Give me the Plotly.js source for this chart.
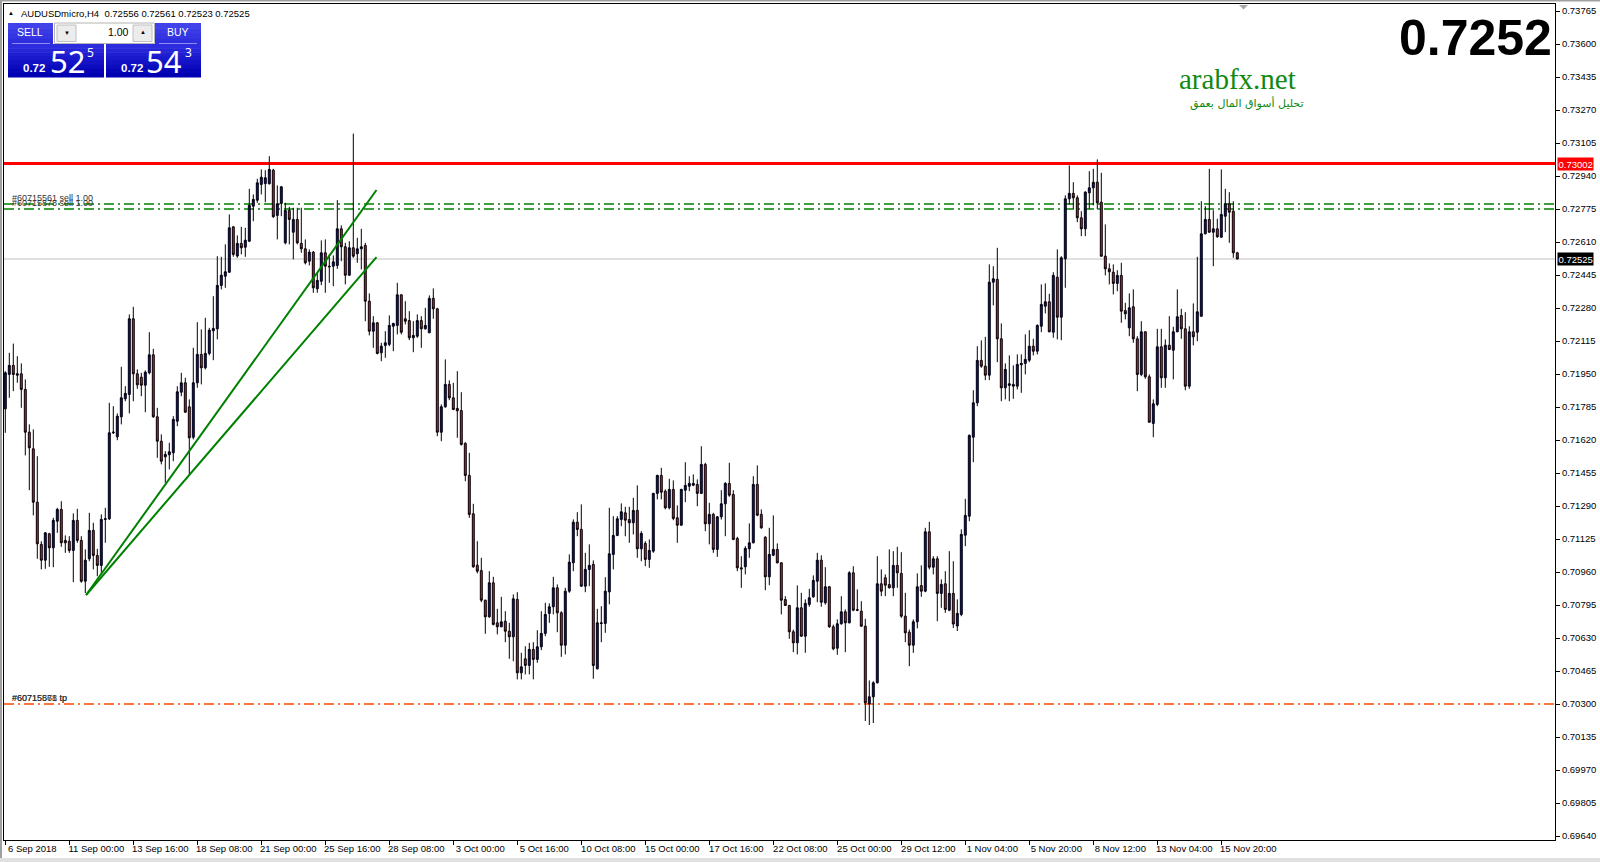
<!DOCTYPE html>
<html><head><meta charset="utf-8">
<script src="https://cdn.plot.ly/plotly-3.0.1.min.js"></script>
<style>html,body{margin:0;padding:0;background:#fff;overflow:hidden}#chart{width:1600px;height:862px}</style>
</head><body><div id="chart"></div>
<script>
// ---------------- DATA ----------------
const symbolHeader = "AUDUSDmicro,H4  0.72556 0.72561 0.72523 0.72525";
const tickLabels = ["6 Sep 2018","11 Sep 00:00","13 Sep 16:00","18 Sep 08:00","21 Sep 00:00","25 Sep 16:00","28 Sep 08:00","3 Oct 00:00","5 Oct 16:00","10 Oct 08:00","15 Oct 00:00","17 Oct 16:00","22 Oct 08:00","25 Oct 00:00","29 Oct 12:00","1 Nov 04:00","5 Nov 20:00","8 Nov 12:00","13 Nov 04:00","15 Nov 20:00"];
const tickBars = [0,16,32,48,64,80,96,112,128,144,160,176,192,208,224,240,256,272,288,304];

const openP = [
0.71776,0.71948,0.71993,0.71944,0.71951,0.71873,0.71659,0.71576,0.71309,0.71098,
0.71019,0.71151,0.71081,0.71214,0.71273,0.71118,0.71114,0.71068,0.71218,0.71118,
0.70914,0.71026,0.71168,0.71043,0.70993,0.71223,0.71226,0.71656,0.71636,0.71736,
0.71826,0.71848,0.72226,0.71951,0.71934,0.71894,0.71956,0.72046,0.71736,0.71614,
0.71536,0.71546,0.71556,0.71714,0.71859,0.71906,0.71786,0.71634,0.71906,0.72048,
0.71981,0.72053,0.72166,0.72176,0.72393,0.72439,0.72459,0.72686,0.72540,0.72603,
0.72584,0.72614,0.72789,0.72819,0.72898,0.72902,0.72901,0.72969,0.72743,0.72803,
0.72606,0.72768,0.72659,0.72723,0.72603,0.72576,0.72514,0.72559,0.72376,0.72414,
0.72556,0.72489,0.72489,0.72493,0.72676,0.72586,0.72444,0.72581,0.72551,0.72576,
0.72593,0.72314,0.72164,0.72206,0.72056,0.72093,0.72098,0.72189,0.72193,0.72346,
0.72226,0.72217,0.72131,0.72139,0.72217,0.72176,0.72156,0.72328,0.72276,0.71659,
0.71786,0.71898,0.71831,0.71778,0.71767,0.71603,0.71443,0.71251,0.70994,0.70967,
0.70819,0.70736,0.70906,0.70706,0.70686,0.70714,0.70664,0.70636,0.70823,0.70456,
0.70526,0.70493,0.70573,0.70523,0.70586,0.70653,0.70753,0.70786,0.70881,0.70756,
0.70594,0.70864,0.71006,0.71209,0.71173,0.70889,0.70973,0.70998,0.70476,0.70706,
0.70703,0.70861,0.71048,0.71143,0.71223,0.71256,0.71222,0.71206,0.71268,0.71076,
0.71103,0.71023,0.71064,0.71353,0.71443,0.71364,0.71281,0.71373,0.71231,0.71194,
0.71369,0.71389,0.71394,0.71398,0.71353,0.71498,0.71201,0.71248,0.71073,0.71236,
0.71301,0.71403,0.71348,0.71128,0.70981,0.70986,0.71076,0.71106,0.71398,0.71248,
0.71134,0.70936,0.71044,0.71073,0.71006,0.70822,0.70793,0.70661,0.70606,0.70781,
0.70639,0.70798,0.70836,0.70914,0.71019,0.70806,0.70886,0.70686,0.70579,0.70701,
0.70761,0.70706,0.70956,0.70772,0.70764,0.70689,0.70301,0.70336,0.70406,0.70901,
0.70931,0.70897,0.70881,0.70993,0.70953,0.70739,0.70659,0.70594,0.70711,0.70892,
0.70864,0.71161,0.70984,0.71026,0.70853,0.70901,0.70769,0.70853,0.70690,0.70748,
0.71144,0.71239,0.71634,0.71806,0.72018,0.71989,0.71944,0.72409,0.72423,0.72126,
0.71881,0.71893,0.71898,0.71889,0.71996,0.72003,0.72019,0.72089,0.72064,0.72189,
0.72289,0.72311,0.72159,0.72434,0.72234,0.72526,0.72826,0.72853,0.72831,0.72731,
0.72676,0.72856,0.72881,0.72909,0.72809,0.72539,0.72476,0.72459,0.72403,0.72443,
0.72267,0.72181,0.72286,0.72126,0.71948,0.72161,0.71936,0.71703,0.71798,0.72086,
0.71931,0.72094,0.72069,0.72161,0.72242,0.72176,0.71889,0.72161,0.72159,0.72239,
0.72651,0.72723,0.72659,0.72676,0.72634,0.72739,0.72801,0.72764,0.72556];

const highP = [
0.71964,0.72056,0.72102,0.72039,0.72003,0.71923,0.71698,0.71673,0.71539,0.71114,
0.71159,0.71156,0.71231,0.71281,0.71314,0.71143,0.71139,0.71253,0.71276,0.71139,
0.71073,0.71256,0.71206,0.71076,0.71248,0.71281,0.71806,0.71789,0.71753,0.71986,
0.71889,0.72248,0.72286,0.71973,0.71956,0.71968,0.72159,0.72076,0.71781,0.71648,
0.71564,0.71606,0.71739,0.71889,0.71956,0.71931,0.71823,0.72081,0.72209,0.72173,
0.72231,0.72181,0.72339,0.72539,0.72536,0.72598,0.72748,0.72688,0.72643,0.72686,
0.72681,0.72876,0.72848,0.72926,0.72973,0.72969,0.73039,0.72976,0.72893,0.72890,
0.72806,0.72786,0.72781,0.72781,0.72781,0.72623,0.72573,0.72565,0.72456,0.72618,
0.72623,0.72548,0.72543,0.72819,0.72693,0.72606,0.72614,0.73152,0.72631,0.72676,
0.72606,0.72353,0.72239,0.72210,0.72106,0.72164,0.72243,0.72206,0.72406,0.72348,
0.72314,0.72264,0.72214,0.72248,0.72239,0.72281,0.72343,0.72378,0.72281,0.71798,
0.72023,0.71918,0.71906,0.71964,0.71859,0.71609,0.71556,0.71301,0.71114,0.71031,
0.70822,0.70964,0.70936,0.70776,0.70836,0.70764,0.70706,0.70848,0.70859,0.70556,
0.70589,0.70606,0.70609,0.70669,0.70764,0.70806,0.70803,0.70936,0.70898,0.70764,
0.70881,0.71048,0.71223,0.71259,0.71298,0.71056,0.71098,0.71018,0.70776,0.70789,
0.70934,0.71281,0.71239,0.71239,0.71303,0.71286,0.71286,0.71331,0.71393,0.71164,
0.71114,0.71123,0.71356,0.71446,0.71481,0.71373,0.71426,0.71418,0.71293,0.71376,
0.71509,0.71439,0.71448,0.71423,0.71589,0.71506,0.71306,0.71256,0.71239,0.71369,
0.71409,0.71506,0.71369,0.71136,0.71039,0.71089,0.71203,0.71439,0.71493,0.71273,
0.71139,0.71181,0.71243,0.71103,0.71009,0.70839,0.70795,0.70672,0.70893,0.70856,
0.70823,0.70876,0.70943,0.71056,0.71043,0.70984,0.70890,0.70697,0.70723,0.70839,
0.70773,0.70964,0.70989,0.70873,0.70814,0.70726,0.70418,0.70414,0.71039,0.70973,
0.70948,0.71073,0.71064,0.71086,0.71059,0.70856,0.70672,0.70723,0.70953,0.70993,
0.71181,0.71211,0.71039,0.71039,0.70923,0.70964,0.71064,0.71014,0.70823,0.71173,
0.71326,0.71648,0.71869,0.72089,0.72118,0.72136,0.72498,0.72489,0.72581,0.72203,
0.72003,0.72043,0.71993,0.72048,0.72048,0.72148,0.72169,0.72126,0.72198,0.72398,
0.72403,0.72351,0.72459,0.72573,0.72539,0.72843,0.72993,0.72909,0.72843,0.72764,
0.72864,0.72964,0.72976,0.73023,0.72956,0.72698,0.72503,0.72498,0.72469,0.72506,
0.72306,0.72353,0.72373,0.72139,0.72214,0.72164,0.71948,0.71823,0.72176,0.72176,
0.72123,0.72239,0.72186,0.72373,0.72276,0.72259,0.72189,0.72303,0.72536,0.72814,
0.72789,0.72976,0.72769,0.72726,0.72973,0.72876,0.72859,0.72814,0.72561];

const lowP = [
0.71656,0.71831,0.71864,0.71906,0.71781,0.71543,0.71369,0.71243,0.71026,0.70973,
0.70976,0.70986,0.70984,0.71156,0.71086,0.71056,0.71056,0.70909,0.71106,0.70906,
0.70855,0.71014,0.70973,0.70939,0.70956,0.71106,0.71220,0.71650,0.71619,0.71698,
0.71814,0.71753,0.71814,0.71876,0.71839,0.71759,0.71948,0.71731,0.71531,0.71498,
0.71406,0.71473,0.71514,0.71689,0.71839,0.71756,0.71448,0.71623,0.71881,0.71898,
0.71973,0.72043,0.72019,0.72123,0.72373,0.72381,0.72456,0.72536,0.72531,0.72548,
0.72536,0.72610,0.72714,0.72806,0.72848,0.72809,0.72898,0.72731,0.72623,0.72739,
0.72598,0.72598,0.72523,0.72598,0.72556,0.72498,0.72493,0.72356,0.72356,0.72394,
0.72356,0.72406,0.72389,0.72476,0.72514,0.72398,0.72442,0.72531,0.72506,0.72473,
0.72214,0.72143,0.72081,0.72048,0.72014,0.72031,0.72089,0.72064,0.72148,0.72148,
0.72198,0.72119,0.72059,0.72131,0.72081,0.72172,0.72156,0.72226,0.71639,0.71614,
0.71781,0.71819,0.71769,0.71631,0.71592,0.71414,0.71231,0.70981,0.70953,0.70809,
0.70651,0.70731,0.70693,0.70648,0.70684,0.70609,0.70526,0.70514,0.70423,0.70423,
0.70448,0.70448,0.70423,0.70506,0.70569,0.70639,0.70706,0.70748,0.70659,0.70536,
0.70548,0.70856,0.70964,0.71139,0.70886,0.70859,0.70889,0.70426,0.70473,0.70609,
0.70656,0.70798,0.70973,0.71139,0.71189,0.71139,0.71106,0.71148,0.71031,0.71014,
0.70989,0.70981,0.71056,0.71323,0.71323,0.71273,0.71273,0.71219,0.71106,0.71192,
0.71309,0.71364,0.71389,0.71289,0.71350,0.71164,0.71098,0.71056,0.71036,0.71222,
0.71139,0.71336,0.71119,0.70964,0.70881,0.70948,0.71031,0.71103,0.71239,0.71176,
0.70869,0.70894,0.71039,0.71003,0.70748,0.70790,0.70626,0.70559,0.70548,0.70636,
0.70556,0.70786,0.70831,0.70809,0.70786,0.70797,0.70681,0.70569,0.70546,0.70697,
0.70559,0.70703,0.70764,0.70764,0.70686,0.70215,0.70195,0.70205,0.70403,0.70839,
0.70839,0.70878,0.70839,0.70881,0.70731,0.70609,0.70489,0.70556,0.70678,0.70836,
0.70859,0.70973,0.70948,0.70714,0.70781,0.70756,0.70764,0.70680,0.70665,0.70739,
0.71089,0.71214,0.71509,0.71789,0.71981,0.71919,0.71919,0.72293,0.72009,0.71814,
0.71823,0.71814,0.71826,0.71873,0.71856,0.71948,0.72009,0.72043,0.72048,0.72159,
0.72253,0.72159,0.72131,0.72123,0.72119,0.72381,0.72798,0.72776,0.72709,0.72639,
0.72639,0.72776,0.72793,0.72773,0.72536,0.72443,0.72398,0.72348,0.72364,0.72206,
0.72223,0.72139,0.72106,0.71864,0.71939,0.71926,0.71706,0.71634,0.71789,0.71881,
0.71881,0.72069,0.71923,0.72159,0.72126,0.71869,0.71876,0.72093,0.72114,0.72236,
0.72648,0.72656,0.72489,0.72631,0.72631,0.72659,0.72606,0.72531,0.72523];

const closeP = [
0.71956,0.71993,0.71948,0.71951,0.71873,0.71659,0.71581,0.71309,0.71101,0.71019,
0.71156,0.71081,0.71218,0.71273,0.71106,0.71106,0.71068,0.71218,0.71118,0.70914,
0.71019,0.71168,0.71043,0.70993,0.71223,0.71226,0.71656,0.71659,0.71739,0.71831,
0.71853,0.72226,0.71951,0.71896,0.71894,0.71959,0.72046,0.71736,0.71614,0.71514,
0.71548,0.71561,0.71723,0.71861,0.71906,0.71759,0.71631,0.71906,0.72048,0.71981,
0.72053,0.72169,0.72178,0.72393,0.72444,0.72461,0.72681,0.72548,0.72603,0.72581,
0.72619,0.72793,0.72823,0.72906,0.72934,0.72931,0.72973,0.72736,0.72801,0.72886,
0.72768,0.72723,0.72723,0.72606,0.72576,0.72506,0.72559,0.72381,0.72418,0.72556,
0.72489,0.72486,0.72511,0.72676,0.72586,0.72444,0.72581,0.72539,0.72576,0.72586,
0.72314,0.72164,0.72206,0.72053,0.72089,0.72106,0.72193,0.72203,0.72346,0.72159,
0.72214,0.72131,0.72143,0.72217,0.72176,0.72193,0.72328,0.72276,0.71659,0.71786,
0.71898,0.71831,0.71773,0.71766,0.71598,0.71443,0.71248,0.70986,0.70964,0.70819,
0.70736,0.70906,0.70698,0.70686,0.70711,0.70664,0.70636,0.70826,0.70456,0.70486,
0.70493,0.70573,0.70523,0.70586,0.70653,0.70748,0.70786,0.70881,0.70756,0.70594,
0.70864,0.71009,0.71209,0.71173,0.70889,0.70973,0.70993,0.70493,0.70706,0.70703,
0.70864,0.71051,0.71143,0.71226,0.71261,0.71219,0.71206,0.71268,0.71076,0.71153,
0.71023,0.71068,0.71353,0.71443,0.71359,0.71281,0.71373,0.71228,0.71194,0.71373,
0.71393,0.71403,0.71403,0.71353,0.71498,0.71201,0.71248,0.71073,0.71236,0.71301,
0.71403,0.71344,0.71123,0.70981,0.70976,0.71078,0.71106,0.71398,0.71244,0.71181,
0.70936,0.71048,0.71073,0.71006,0.70819,0.70793,0.70661,0.70606,0.70781,0.70639,
0.70803,0.70831,0.70918,0.71019,0.70809,0.70886,0.70686,0.70576,0.70701,0.70761,
0.70706,0.70956,0.70769,0.70769,0.70689,0.70306,0.70336,0.70406,0.70901,0.70864,
0.70894,0.70881,0.70993,0.70956,0.70739,0.70656,0.70594,0.70711,0.70886,0.70864,
0.71161,0.70984,0.71026,0.70853,0.70898,0.70773,0.70853,0.70700,0.70753,0.71148,
0.71243,0.71643,0.71806,0.72018,0.71989,0.71944,0.72409,0.72426,0.72126,0.71881,
0.71973,0.71901,0.71889,0.71998,0.72003,0.72023,0.72089,0.72064,0.72193,0.72298,
0.72311,0.72161,0.72443,0.72234,0.72531,0.72826,0.72853,0.72831,0.72731,0.72676,
0.72859,0.72881,0.72909,0.72806,0.72539,0.72476,0.72461,0.72403,0.72443,0.72264,
0.72251,0.72281,0.72126,0.71948,0.72161,0.71936,0.71709,0.71801,0.72086,0.71931,
0.72094,0.72073,0.72161,0.72236,0.72176,0.71889,0.72161,0.72136,0.72261,0.72651,
0.72723,0.72659,0.72676,0.72636,0.72748,0.72801,0.72759,0.72556,0.72525];

const resistanceLevel = 0.73002;
const sellEntries = [0.72800, 0.72775];
const sellLabels = ["#60715561 sell 1.00", "#60715878 sell 1.00"];
const bidPrice = 0.72525;
const takeProfit = 0.70300;
const tpLabels = ["#60715561 tp", "#60715878 tp"];
const trendBars = [20.2, 92.8];
const trendUpper = [0.70845, 0.72870];
const trendLower = [0.70845, 0.72534];
const bigPriceText = "0.7252";
const sellQuote = ["0.72", "52", "5"];
const buyQuote = ["0.72", "54", "3"];
const lotText = "1.00";

// ---------------- LAYOUT HELPERS ----------------
const PL = 4, PT = 4, PW = 1551, PH = 836;
const fx = p => (p - PL) / PW;
const fy = p => (PT + PH - p) / PH;
const bars = openP.map((_, i) => i);

const shapes = [];
const ann = [];
function rectPx(x0, y0, x1, y1, fill, lc, lw) {
  shapes.push({type:'rect', xref:'paper', yref:'paper', x0:fx(x0), x1:fx(x1), y0:fy(y1), y1:fy(y0),
    fillcolor:fill, line:{color:lc||fill, width:lw||0}, layer:'above'});
}
function linePx(x0, y0, x1, y1, color, w) {
  shapes.push({type:'line', xref:'paper', yref:'paper', x0:fx(x0), x1:fx(x1), y0:fy(y0), y1:fy(y1),
    line:{color:color, width:w}, layer:'above'});
}
function textPx(x, y, text, size, color, o) {
  o = o || {};
  ann.push({xref:'paper', yref:'paper', x:fx(x), y:fy(y), text:text, showarrow:false,
    xanchor:o.xa||'center', yanchor:o.ya||'middle', borderpad:0,
    font:{family:o.family||'Liberation Sans, Arial, sans-serif', size:size, color:color, weight:o.weight||'normal'}});
}
function gradRect(x0, y0, x1, y1, c0, c1, n) {
  const h = (y1 - y0) / n;
  for (let k = 0; k < n; k++) {
    const t = n === 1 ? 0 : k / (n - 1);
    const c = c0.map((v, j) => Math.round(v + (c1[j] - v) * t));
    rectPx(x0, y0 + k*h, x1, y0 + (k+1)*h + 0.5, 'rgb(' + c.join(',') + ')');
  }
}

// horizontal levels (data referenced)
shapes.push({type:'line', xref:'paper', x0:0, x1:1, yref:'y', y0:bidPrice, y1:bidPrice, line:{color:'#c0c0c0', width:1}, layer:'below'});
sellEntries.forEach(v => shapes.push({type:'line', xref:'paper', x0:0, x1:1, yref:'y', y0:v, y1:v,
  line:{color:'#008000', width:1.3, dash:'10px,4px,2px,4px'}, layer:'below'}));
shapes.push({type:'line', xref:'paper', x0:0, x1:1, yref:'y', y0:takeProfit, y1:takeProfit,
  line:{color:'#ff4500', width:1.3, dash:'10px,4px,2px,4px'}, layer:'below'});
shapes.push({type:'line', xref:'paper', x0:0, x1:1, yref:'y', y0:resistanceLevel, y1:resistanceLevel,
  line:{color:'#ff0000', width:3}, layer:'below'});

// order labels
sellEntries.forEach((v, k) => ann.push({xref:'paper', x:fx(11), xanchor:'left', yref:'y', y:v, yanchor:'bottom',
  text:sellLabels[k], showarrow:false, borderpad:0, font:{family:'Liberation Sans, Arial', size:9, color:'#333'}}));
tpLabels.forEach(t => ann.push({xref:'paper', x:fx(11), xanchor:'left', yref:'y', y:takeProfit, yanchor:'bottom',
  text:t, showarrow:false, borderpad:0, font:{family:'Liberation Sans, Arial', size:9, color:'#333'}}));

// price labels on axis
ann.push({xref:'paper', x:fx(1557), xanchor:'left', yref:'y', y:resistanceLevel, yanchor:'middle', text:resistanceLevel.toFixed(5),
  showarrow:false, bgcolor:'#ff0000', borderpad:0.5, font:{family:'Liberation Sans, Arial', size:9.5, color:'#fff'}});
ann.push({xref:'paper', x:fx(1557), xanchor:'left', yref:'y', y:bidPrice, yanchor:'middle', text:bidPrice.toFixed(5),
  showarrow:false, bgcolor:'#000000', borderpad:0.5, font:{family:'Liberation Sans, Arial', size:9.5, color:'#fff'}});

// window frame
rectPx(0, 0, 2, 862, '#a0a0a0');
rectPx(0, 0, 1600, 1.5, '#a0a0a0');
rectPx(0, 858, 1600, 862, '#e0e0e0');
// chart shift marker
shapes.push({type:'path', xref:'paper', yref:'paper', path:'M '+fx(1239)+' '+fy(5)+' L '+fx(1248)+' '+fy(5)+' L '+fx(1243.5)+' '+fy(9.5)+' Z',
  fillcolor:'#a8a8a8', line:{width:0}, layer:'above'});

// header
textPx(11, 13, '▲', 6, '#000');
textPx(20, 13.5, symbolHeader, 9.5, '#000', {xa:'left'});

// trading panel
gradRect(8, 23, 53, 44, [66,66,234], [46,46,222], 4);
gradRect(8, 44, 104, 77, [44,44,222], [0,0,178], 8);
gradRect(155, 23, 201, 44, [66,66,234], [46,46,222], 4);
gradRect(106, 44, 201, 77, [44,44,222], [0,0,178], 8);
linePx(12, 43.5, 50, 43.5, '#8c8cf2', 1);
linePx(159, 43.5, 197, 43.5, '#8c8cf2', 1);
rectPx(54.5, 23, 154.5, 43.5, '#ffffff', '#b4b4b4', 1);
rectPx(57, 25, 76, 41.5, '#ececec', '#c0c0c0', 1);
rectPx(133, 25, 152, 41.5, '#ececec', '#c0c0c0', 1);
textPx(66.5, 33, '▼', 6, '#000');
textPx(142.5, 32, '▲', 6, '#000');
textPx(130, 32.5, lotText, 10.5, '#000', {xa:'right'});
textPx(30, 32.5, 'SELL', 10.5, '#fff');
textPx(178, 32.5, 'BUY', 10.5, '#fff');
textPx(33.5, 67.5, sellQuote[0], 11.5, '#fff', {weight:'bold'});
textPx(67.5, 61, sellQuote[1], 31, '#fff', {family:'Noto Sans, Open Sans, sans-serif'});
textPx(90.5, 52.5, sellQuote[2], 12, '#fff', {family:'Noto Sans, Open Sans, sans-serif'});
textPx(131.5, 67.5, buyQuote[0], 11.5, '#fff', {weight:'bold'});
textPx(164, 61, buyQuote[1], 31, '#fff', {family:'Noto Sans, Open Sans, sans-serif'});
textPx(188.5, 52.5, buyQuote[2], 12, '#fff', {family:'Noto Sans, Open Sans, sans-serif'});

// big price and branding
textPx(1553, 38, bigPriceText, 50, '#000', {xa:'right', weight:'bold'});
textPx(1237.5, 79, 'arabfx.net', 29, '#108a10', {family:'Liberation Serif, Times New Roman, serif'});
textPx(1247, 104, 'تحليل أسواق المال بعمق', 11, '#108a10', {family:'DejaVu Sans, sans-serif'});

// ---------------- TRACES ----------------
const traces = [
  {type:'candlestick', x:bars, open:openP, high:highP, low:lowP, close:closeP,
   increasing:{fillcolor:'#0000ff', line:{color:'#000000', width:1}},
   decreasing:{fillcolor:'#dc143c', line:{color:'#000000', width:1}},
   whiskerwidth:0, showlegend:false, hoverinfo:'skip'},
  {type:'scatter', mode:'lines', x:trendBars, y:trendUpper, line:{color:'#008000', width:2}, showlegend:false, hoverinfo:'skip'},
  {type:'scatter', mode:'lines', x:trendBars, y:trendLower, line:{color:'#008000', width:2}, showlegend:false, hoverinfo:'skip'}
];

const layout = {
  width:1600, height:862,
  margin:{l:PL, r:1600-PL-PW, t:PT, b:862-PT-PH, pad:0},
  paper_bgcolor:'#ffffff', plot_bgcolor:'#ffffff',
  showlegend:false, hovermode:false, dragmode:false,
  xaxis:{range:[-0.325, 387.425], showgrid:false, zeroline:false, rangeslider:{visible:false},
    tickmode:'array', tickvals:tickBars, ticktext:tickLabels, ticks:'outside', ticklen:4, tickcolor:'#000',
    ticklabelshift:27, ticklabelstandoff:-4, tickfont:{family:'Liberation Sans, Arial', size:9.5, color:'#000'},
    showline:true, linecolor:'#000', linewidth:1, mirror:true, fixedrange:true},
  yaxis:{range:[0.6962, 0.7380], side:'right', showgrid:false, zeroline:false,
    tickmode:'linear', tick0:0.6964, dtick:0.00165, tickformat:'.5f', ticks:'outside', ticklen:4, tickcolor:'#000',
    tickfont:{family:'Liberation Sans, Arial', size:9.5, color:'#000'},
    showline:true, linecolor:'#000', linewidth:1, mirror:true, fixedrange:true},
  shapes:shapes, annotations:ann
};

Plotly.newPlot('chart', traces, layout, {staticPlot:true, displayModeBar:false});
</script>
</body></html>
